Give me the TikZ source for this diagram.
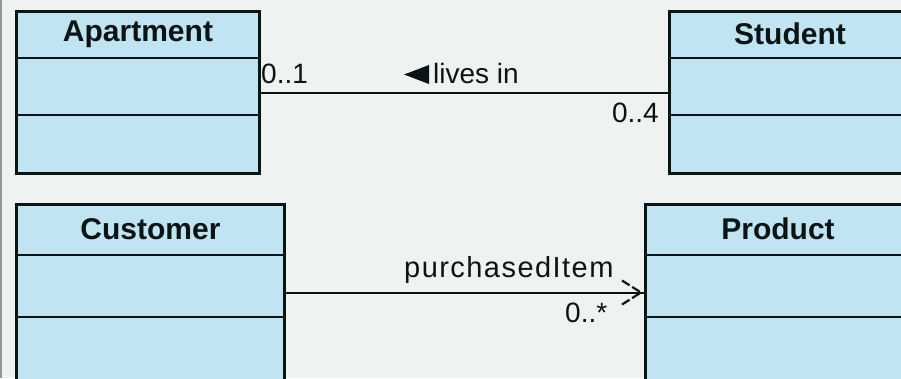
\documentclass[tikz,border=0pt]{standalone}
\usepackage{fontspec}
\setmainfont{Liberation Sans}
\definecolor{bgc}{RGB}{238,243,242}
\definecolor{boxfill}{RGB}{193,228,242}
\definecolor{ink}{RGB}{10,20,20}
\definecolor{frameline}{RGB}{150,150,150}
\tikzset{
  cls/.style={draw=ink, fill=boxfill, line width=3pt, inner sep=0pt, anchor=north west},
  title/.style={font=\fontsize{30}{32}\selectfont\bfseries, text=ink, inner sep=0pt},
  lbl/.style={font=\fontsize{28}{30}\selectfont, text=ink, inner sep=0pt},
  divider/.style={draw=ink, line width=2.5pt},
  assoc/.style={draw=ink, line width=2pt},
  barb/.style={draw=ink, line width=2.2pt, dash pattern=on 9pt off 3pt}
}
\begin{document}
\begin{tikzpicture}[x=1pt,y=-1pt]
\useasboundingbox (0,0) rectangle (901,378);
\clip (0,0) rectangle (901,378);
\fill[bgc] (0,0) rectangle (901,378);
\draw[frameline, line width=2pt] (1,0) -- (1,378);

% Apartment
\node[cls, minimum width=243pt, minimum height=162pt] (apt) at (15,10) {};
\node[title] (aptT) at ([yshift=-24pt]apt.north) {Apartment};
\draw[divider] ([yshift=-48pt]apt.north west) -- ([yshift=-48pt]apt.north east);
\draw[divider] ([yshift=-105pt]apt.north west) -- ([yshift=-105pt]apt.north east);

% Student
\node[cls, minimum width=241pt, minimum height=162pt] (stu) at (668,10) {};
\node[title] (stuT) at ([yshift=-24pt]stu.north) {Student};
\draw[divider] ([yshift=-48pt]stu.north west) -- ([yshift=-48pt]stu.north east);
\draw[divider] ([yshift=-105pt]stu.north west) -- ([yshift=-105pt]stu.north east);

% Customer
\node[cls, minimum width=268pt, minimum height=176pt] (cus) at (15,203) {};
\node[title] (cusT) at ([yshift=-26pt]cus.north) {Customer};
\draw[divider] ([yshift=-52pt]cus.north west) -- ([yshift=-52pt]cus.north east);
\draw[divider] ([yshift=-114pt]cus.north west) -- ([yshift=-114pt]cus.north east);

% Product
\node[cls, minimum width=265pt, minimum height=176pt] (pro) at (644,203) {};
\node[title] (proT) at ([yshift=-26pt]pro.north) {Product};
\draw[divider] ([yshift=-52pt]pro.north west) -- ([yshift=-52pt]pro.north east);
\draw[divider] ([yshift=-114pt]pro.north west) -- ([yshift=-114pt]pro.north east);

% lives in association
\draw[assoc] (apt.east) -- (stu.west);
\node[lbl, anchor=base west] (m01) at (261,83) {0..1};
\node[lbl, anchor=base east] (m04) at (659,122) {0..4};
\fill[ink] (404,74.5) -- (429,65) -- (429,84) -- cycle;
\node[lbl, anchor=base west] (livesin) at (433,83) {lives in};

% purchasedItem association
\draw[assoc] (cus.east) -- (pro.west);
\draw[barb] ([shift={(-22,-12)}]pro.west) -- ([xshift=-3pt]pro.west) -- ([shift={(-22,12)}]pro.west);
\node[lbl, anchor=base west, font=\fontsize{29}{31}\selectfont\addfontfeatures{LetterSpace=5}] (pitem) at (404,277) {purchasedItem};
\node[lbl, anchor=base west] (mstar) at (565,322) {0..*};
\end{tikzpicture}
\end{document}
